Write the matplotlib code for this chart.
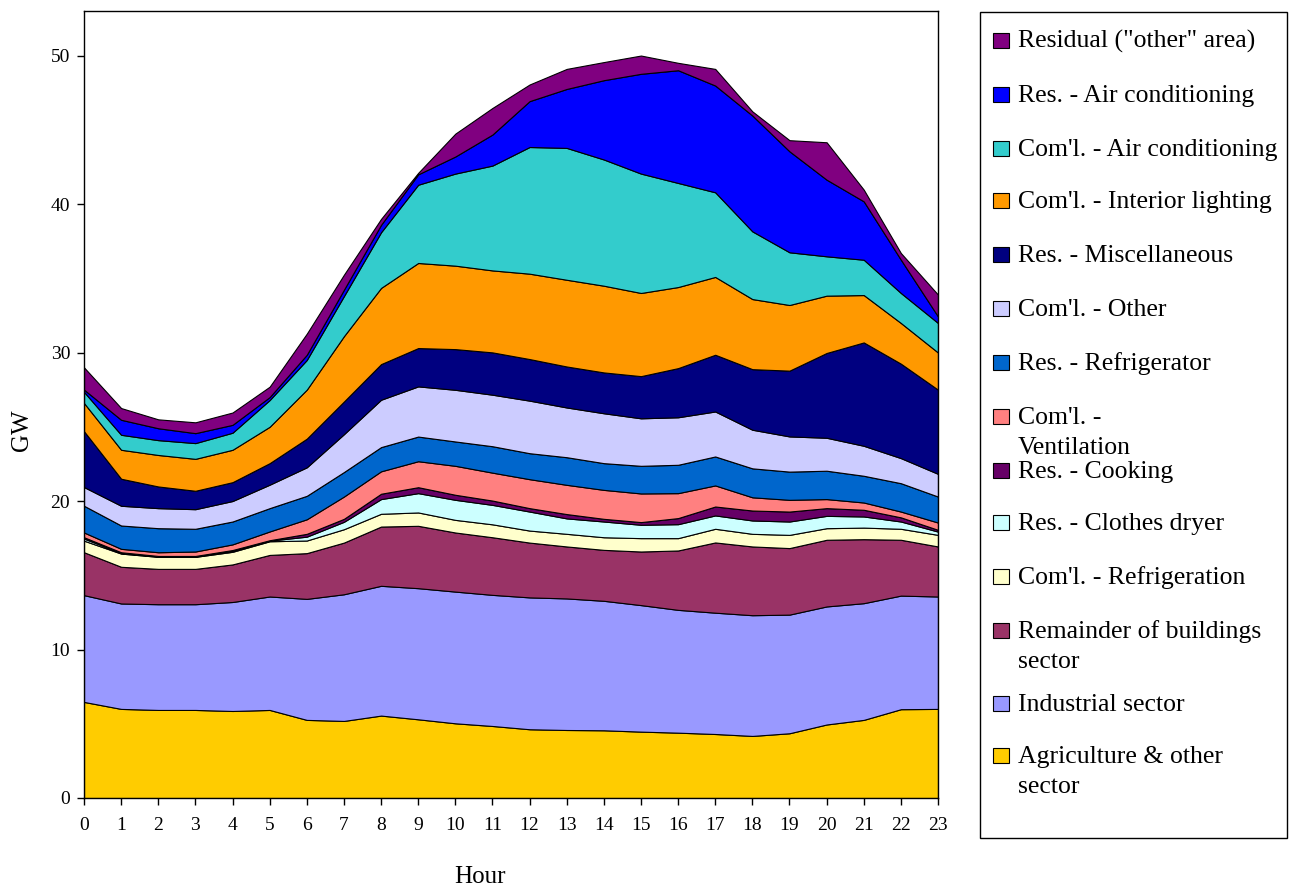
import matplotlib
matplotlib.use("Agg")
import matplotlib.pyplot as plt
from matplotlib.patches import Rectangle

plt.rcParams['font.family'] = ['Liberation Serif', 'DejaVu Serif']

hours = list(range(24))

# GW per end use (bottom layer first)
agriculture = [6.47, 6.0, 5.93, 5.93, 5.86, 5.93, 5.26, 5.19, 5.55, 5.3, 5.03, 4.85,
               4.63, 4.58, 4.56, 4.47, 4.4, 4.31, 4.18, 4.36, 4.95, 5.26, 5.98, 6.0]
industrial = [7.19, 7.1, 7.12, 7.12, 7.34, 7.64, 8.15, 8.53, 8.74, 8.83, 8.87, 8.83,
              8.88, 8.86, 8.72, 8.52, 8.27, 8.17, 8.13, 7.99, 7.95, 7.86, 7.65, 7.57]
remainder = [2.89, 2.47, 2.38, 2.38, 2.53, 2.8, 3.08, 3.48, 3.99, 4.2, 3.98, 3.88,
             3.69, 3.5, 3.43, 3.61, 4.0, 4.73, 4.63, 4.48, 4.49, 4.31, 3.76, 3.37]
com_refrigeration = [0.78, 0.89, 0.81, 0.81, 0.85, 0.92, 0.85, 0.9, 0.86, 0.9, 0.85, 0.87,
                     0.81, 0.85, 0.85, 0.9, 0.83, 0.92, 0.85, 0.89, 0.78, 0.78, 0.74, 0.78]
res_dryer = [0.14, 0.04, 0.03, 0.03, 0.07, 0.04, 0.26, 0.5, 0.99, 1.3, 1.35, 1.31,
             1.28, 1.04, 1.06, 0.9, 0.94, 0.9, 0.9, 0.9, 0.83, 0.75, 0.49, 0.22]
res_cooking = [0.09, 0.05, 0.03, 0.03, 0.05, 0.03, 0.19, 0.2, 0.36, 0.4, 0.34, 0.29,
               0.23, 0.29, 0.18, 0.18, 0.41, 0.6, 0.67, 0.67, 0.52, 0.45, 0.28, 0.12]
com_ventilation = [0.32, 0.23, 0.25, 0.3, 0.38, 0.59, 0.98, 1.5, 1.51, 1.75, 1.95, 1.88,
                   1.95, 1.97, 1.95, 1.93, 1.68, 1.42, 0.89, 0.79, 0.61, 0.49, 0.39, 0.49]
res_refrigerator = [1.8, 1.57, 1.62, 1.53, 1.54, 1.57, 1.58, 1.65, 1.63, 1.66, 1.64, 1.78,
                    1.75, 1.86, 1.8, 1.86, 1.91, 1.95, 1.95, 1.9, 1.91, 1.8, 1.91, 1.75]
com_other = [1.26, 1.33, 1.35, 1.32, 1.38, 1.58, 1.92, 2.55, 3.19, 3.38, 3.48, 3.47,
             3.54, 3.35, 3.36, 3.2, 3.2, 3.03, 2.6, 2.37, 2.22, 2.02, 1.69, 1.53]
res_misc = [3.76, 1.82, 1.46, 1.24, 1.27, 1.45, 1.93, 2.2, 2.4, 2.58, 2.74, 2.85,
            2.8, 2.76, 2.75, 2.84, 3.31, 3.82, 4.08, 4.43, 5.71, 6.96, 6.36, 5.67]
com_lighting = [1.9, 1.95, 2.12, 2.15, 2.18, 2.45, 3.3, 4.4, 5.13, 5.73, 5.62, 5.52,
                5.75, 5.84, 5.84, 5.6, 5.46, 5.24, 4.72, 4.42, 3.86, 3.19, 2.74, 2.5]
com_ac = [0.75, 1.01, 1.0, 1.06, 1.15, 1.8, 2.0, 2.7, 3.75, 5.27, 6.2, 7.06,
          8.53, 8.88, 8.5, 8.04, 7.01, 5.7, 4.56, 3.55, 2.65, 2.38, 2.02, 1.99]
res_ac = [0.15, 1.01, 0.8, 0.67, 0.53, 0.2, 0.35, 0.43, 0.5, 0.7, 1.15, 2.09,
          3.09, 3.97, 5.34, 6.72, 7.59, 7.19, 7.8, 6.8, 5.16, 3.93, 2.24, 0.44]
residual = [1.5, 0.79, 0.6, 0.73, 0.83, 0.7, 1.42, 1.01, 0.4, 0.1, 1.54, 1.79,
            1.12, 1.35, 1.22, 1.23, 0.5, 1.12, 0.28, 0.75, 2.52, 0.79, 0.45, 1.47]

series = [agriculture, industrial, remainder, com_refrigeration, res_dryer, res_cooking,
          com_ventilation, res_refrigerator, com_other, res_misc, com_lighting, com_ac,
          res_ac, residual]
labels = ['Agriculture & other\nsector', 'Industrial sector', 'Remainder of buildings\nsector',
          "Com'l. - Refrigeration", 'Res. - Clothes dryer', 'Res. - Cooking',
          "Com'l. -\nVentilation", 'Res. - Refrigerator', "Com'l. - Other",
          'Res. - Miscellaneous', "Com'l. - Interior lighting", "Com'l. - Air conditioning",
          'Res. - Air conditioning', 'Residual ("other" area)']
colors = ['#FFCC00', '#9999FF', '#993366', '#FFFFCC', '#CCFFFF', '#660066',
          '#FF8080', '#0066CC', '#CCCCFF', '#000080', '#FF9900', '#33CCCC',
          '#0000FF', '#800080']

W, H = 1289, 886
fig = plt.figure(figsize=(W / 100, H / 100), dpi=100)
ax = fig.add_axes([84 / W, 1 - 798 / H, (938 - 84) / W, (798 - 11) / H])

ax.stackplot(hours, *series, colors=colors, edgecolor='black', linewidth=0.8)

ax.set_xlim(0, 23)
ax.set_ylim(0, 53)
ax.set_xticks(hours)
ax.set_yticks(range(0, 51, 10))
ax.tick_params(direction='out', length=5, width=1, labelsize=14, color='black')
ax.tick_params(axis='x', pad=9)
ax.tick_params(axis='y', pad=5)
for s in ax.spines.values():
    s.set_color('black')
    s.set_linewidth(1.0)

fig.text(480 / W, 1 - 877 / H, 'Hour', ha='center', va='center', fontsize=18)
fig.text(22 / W, 1 - 430 / H, 'GW', ha='center', va='center', rotation=90, fontsize=18)

# legend drawn by hand (top entry = top layer)
box = Rectangle((980 / W, 1 - 838 / H), (1287 - 980) / W, (838 - 12) / H,
                transform=fig.transFigure, facecolor='white', edgecolor='black', linewidth=1)
fig.patches.append(box)
handle_y = [40, 94, 148, 200, 254, 308, 362, 416, 470, 522, 576, 630, 703, 755]
for i, yc in enumerate(handle_y):
    k = len(series) - 1 - i
    fig.patches.append(Rectangle((993 / W, 1 - (yc + 8) / H), 16 / W, 15 / H,
                                 transform=fig.transFigure, facecolor=colors[k],
                                 edgecolor='black', linewidth=0.8))
    for j, line in enumerate(labels[k].split('\n')):
        t = fig.text(1018 / W, 1 - (yc + 8 + 30 * j) / H, line, ha='left', va='baseline',
                     fontsize=18.5)
        t.set_clip_path(box)

fig.savefig('out.png', dpi=100)
